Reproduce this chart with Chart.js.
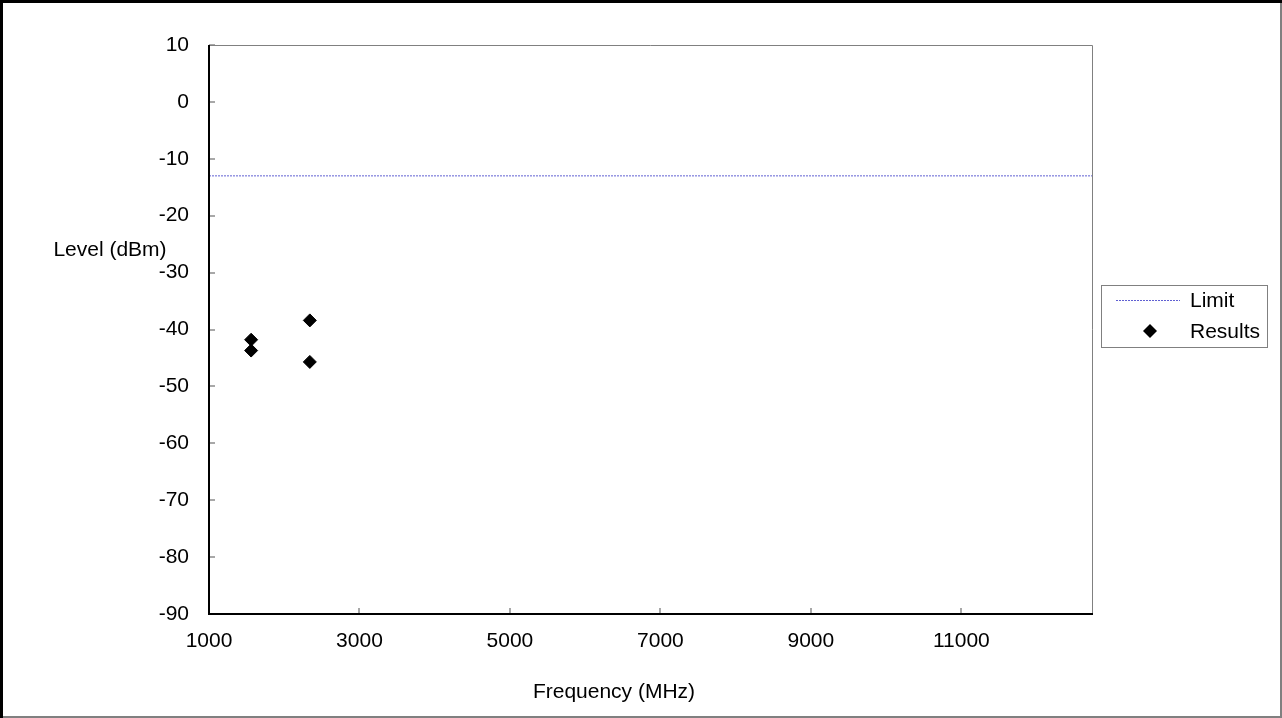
<!DOCTYPE html>
<html>
<head>
<meta charset="utf-8">
<script src="https://cdn.jsdelivr.net/npm/chart.js@4"></script>
<style>
  body { margin: 0; background: #fff; }
  #wrap { width: 1282px; height: 718px; position: relative; }
</style>
</head>
<body>
<div id="wrap"><canvas id="chartScatter"></canvas></div>
<script>
// data
const limitFreq = [1000, 12750];
const limitLevel = [-13, -13];
const resultFreq = [1560, 1560, 2340, 2340];
const resultLevel = [-41.8, -43.7, -38.4, -45.7];
const xTicks = [1000, 3000, 5000, 7000, 9000, 11000];
const yTicks = [10, 0, -10, -20, -30, -40, -50, -60, -70, -80, -90];
const yTitle = "Level (dBm)";
const xTitle = "Frequency (MHz)";

const FONT = "21px 'Liberation Sans', Arial, sans-serif";

const frame = {
  id: "frame",
  beforeDraw(chart) {
    const ctx = chart.ctx;
    ctx.save();
    ctx.fillStyle = "#fff";
    ctx.fillRect(0, 0, chart.width, chart.height);
    ctx.restore();
  },
  afterDraw(chart) {
    const ctx = chart.ctx;
    const a = chart.chartArea;
    const xs = chart.scales.x, ys = chart.scales.y;
    ctx.save();
    // outer border
    ctx.lineWidth = 2;
    ctx.strokeStyle = "#808080";
    ctx.beginPath();
    ctx.moveTo(chart.width - 1, 0); ctx.lineTo(chart.width - 1, chart.height - 1);
    ctx.lineTo(0, chart.height - 1);
    ctx.stroke();
    ctx.lineWidth = 3;
    ctx.strokeStyle = "#000";
    ctx.beginPath();
    ctx.moveTo(1.5, chart.height); ctx.lineTo(1.5, 1.5); ctx.lineTo(chart.width, 1.5);
    ctx.stroke();

    // inward ticks
    ctx.lineWidth = 2;
    ctx.strokeStyle = "#a8a8a8";
    ctx.beginPath();
    yTicks.forEach(v => {
      const y = Math.round(ys.getPixelForValue(v));
      ctx.moveTo(a.left, y); ctx.lineTo(a.left + 6, y);
    });
    xTicks.forEach(v => {
      const x = Math.round(xs.getPixelForValue(v));
      ctx.moveTo(x, a.bottom); ctx.lineTo(x, a.bottom - 6);
    });
    ctx.stroke();

    // plot frame
    ctx.lineWidth = 1;
    ctx.strokeStyle = "#808080";
    ctx.beginPath();
    ctx.moveTo(a.left, a.top + 0.5); ctx.lineTo(a.right - 0.5, a.top + 0.5);
    ctx.lineTo(a.right - 0.5, a.bottom);
    ctx.stroke();
    ctx.strokeStyle = "#000";
    ctx.lineWidth = 2;
    ctx.beginPath();
    ctx.moveTo(a.left, a.top); ctx.lineTo(a.left, a.bottom); ctx.lineTo(a.right, a.bottom);
    ctx.stroke();

    // axis titles
    ctx.fillStyle = "#000";
    ctx.font = FONT;
    ctx.textAlign = "center";
    ctx.textBaseline = "middle";
    ctx.fillText(yTitle, 110, 250);
    ctx.fillText(xTitle, 614, 692);

    // legend
    ctx.lineWidth = 1;
    ctx.strokeStyle = "#808080";
    ctx.strokeRect(1101.5, 285.5, 166, 62);
    const ds = chart.data.datasets;
    ctx.strokeStyle = ds[0].borderColor;
    ctx.setLineDash(ds[0].borderDash);
    ctx.beginPath();
    ctx.moveTo(1116, 300.5); ctx.lineTo(1180, 300.5);
    ctx.stroke();
    ctx.setLineDash([]);
    ctx.fillStyle = "#000";
    ctx.beginPath();
    ctx.moveTo(1150, 324); ctx.lineTo(1157, 331); ctx.lineTo(1150, 338); ctx.lineTo(1143, 331);
    ctx.closePath();
    ctx.fill();
    ctx.textAlign = "left";
    ctx.fillText(ds[0].label, 1190, 301);
    ctx.fillText(ds[1].label, 1190, 332);
    ctx.restore();
  },
};

const chartScatter = new Chart("chartScatter", {
  type: "scatter",
  data: {
    datasets: [
      {
        label: "Limit",
        type: "line",
        data: limitFreq.map((f, i) => ({ x: f, y: limitLevel[i] })),
        borderColor: "rgb(96, 96, 210)",
        borderWidth: 1,
        borderDash: [2, 1],
        pointRadius: 0,
        fill: false,
      },
      {
        label: "Results",
        data: resultFreq.map((f, i) => ({ x: f, y: resultLevel[i] })),
        pointStyle: "rectRot",
        pointRadius: 6.5,
        pointBorderWidth: 1,
        backgroundColor: "#000",
        borderColor: "#000",
      },
    ],
  },
  options: {
    responsive: true,
    maintainAspectRatio: false,
    animation: false,
    devicePixelRatio: 1,
    layout: {
      padding: { top: 45, right: 189, bottom: 0, left: 0 },
    },
    plugins: {
      legend: { display: false },
      tooltip: { enabled: false },
    },
    scales: {
      x: {
        type: "linear",
        min: 1000,
        max: 12750,
        afterFit: (s) => { s.height = 104; },
        afterBuildTicks: (s) => { s.ticks = xTicks.map(v => ({ value: v })); },
        grid: { display: false, drawTicks: false },
        border: { display: false },
        ticks: {
          autoSkip: false,
          padding: 15,
          color: "#000",
          font: { family: "'Liberation Sans', Arial, sans-serif", size: 21 },
          maxRotation: 0,
          callback: (v) => String(v),
        },
      },
      y: {
        min: -90,
        max: 10,
        afterFit: (s) => { s.width = 209; },
        afterBuildTicks: (s) => { s.ticks = yTicks.map(v => ({ value: v })); },
        grid: { display: false, drawTicks: false },
        border: { display: false },
        ticks: {
          autoSkip: false,
          padding: 20,
          color: "#000",
          font: { family: "'Liberation Sans', Arial, sans-serif", size: 21 },
          callback: (v) => String(v),
        },
      },
    },
  },
  plugins: [frame],
});
</script>
</body>
</html>
